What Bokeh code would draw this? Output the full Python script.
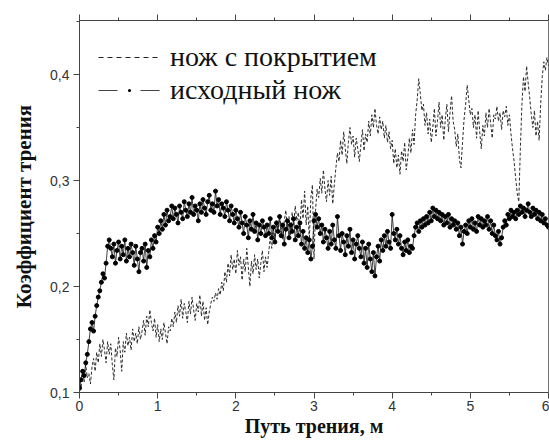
import numpy as np
from bokeh.plotting import figure
from bokeh.models import (Range1d, LinearAxis, FixedTicker, Legend, LegendItem,
                          ColumnDataSource)
from bokeh.embed import file_html
from bokeh.resources import INLINE

# ---- data ----
step = 0.02  # sampling distance along the friction path, m

coef_coated = [
    0.112, 0.104, 0.122, 0.110, 0.126, 0.114, 0.118, 0.108, 0.124, 0.132, 0.120, 0.138, 0.128, 0.146, 0.134, 0.150, 0.140, 0.128, 0.148, 0.136,
    0.146, 0.126, 0.112, 0.142, 0.134, 0.152, 0.140, 0.120, 0.148, 0.138, 0.156, 0.144, 0.152, 0.140, 0.160, 0.148, 0.156, 0.146, 0.162, 0.150,
    0.158, 0.168, 0.154, 0.172, 0.162, 0.178, 0.166, 0.158, 0.170, 0.152, 0.164, 0.148, 0.160, 0.150, 0.166, 0.156, 0.146, 0.162, 0.158, 0.170,
    0.162, 0.176, 0.166, 0.182, 0.172, 0.188, 0.170, 0.184, 0.176, 0.166, 0.186, 0.174, 0.190, 0.178, 0.168, 0.184, 0.176, 0.192, 0.172, 0.186,
    0.168, 0.180, 0.164, 0.176, 0.184, 0.190, 0.186, 0.194, 0.188, 0.198, 0.192, 0.204, 0.196, 0.214, 0.204, 0.222, 0.210, 0.230, 0.216, 0.226,
    0.212, 0.234, 0.220, 0.228, 0.206, 0.226, 0.214, 0.236, 0.218, 0.200, 0.224, 0.212, 0.230, 0.216, 0.226, 0.208, 0.222, 0.234, 0.214, 0.228,
    0.218, 0.232, 0.246, 0.236, 0.254, 0.244, 0.262, 0.250, 0.268, 0.256, 0.244, 0.262, 0.272, 0.254, 0.266, 0.248, 0.270, 0.258, 0.276, 0.262,
    0.270, 0.252, 0.282, 0.264, 0.290, 0.258, 0.276, 0.244, 0.284, 0.296, 0.226, 0.272, 0.292, 0.284, 0.302, 0.288, 0.310, 0.292, 0.280, 0.300,
    0.286, 0.304, 0.278, 0.296, 0.312, 0.326, 0.318, 0.338, 0.324, 0.346, 0.330, 0.316, 0.336, 0.350, 0.334, 0.342, 0.322, 0.340, 0.330, 0.318,
    0.334, 0.348, 0.328, 0.344, 0.336, 0.356, 0.342, 0.362, 0.350, 0.368, 0.352, 0.344, 0.360, 0.348, 0.356, 0.340, 0.352, 0.336, 0.346, 0.330,
    0.338, 0.316, 0.330, 0.312, 0.324, 0.306, 0.328, 0.318, 0.336, 0.310, 0.322, 0.340, 0.326, 0.348, 0.334, 0.362, 0.376, 0.396, 0.382, 0.366,
    0.372, 0.352, 0.364, 0.344, 0.358, 0.336, 0.350, 0.368, 0.342, 0.356, 0.374, 0.350, 0.362, 0.338, 0.358, 0.372, 0.346, 0.364, 0.380, 0.356,
    0.348, 0.332, 0.344, 0.320, 0.312, 0.336, 0.358, 0.372, 0.390, 0.376, 0.362, 0.368, 0.350, 0.362, 0.340, 0.366, 0.346, 0.330, 0.352, 0.342,
    0.364, 0.350, 0.368, 0.354, 0.340, 0.362, 0.358, 0.370, 0.356, 0.364, 0.348, 0.366, 0.360, 0.370, 0.352, 0.362, 0.344, 0.330, 0.318, 0.302,
    0.288, 0.280, 0.330, 0.372, 0.398, 0.384, 0.408, 0.392, 0.378, 0.362, 0.350, 0.366, 0.342, 0.356, 0.338, 0.372, 0.398, 0.412, 0.404, 0.416,
    0.408,
]

coef_original = [
    0.104, 0.112, 0.120, 0.116, 0.128, 0.136, 0.148, 0.160, 0.166, 0.158, 0.172, 0.182, 0.190, 0.196, 0.204, 0.212, 0.208, 0.222, 0.238, 0.244,
    0.236, 0.228, 0.240, 0.222, 0.234, 0.242, 0.226, 0.238, 0.230, 0.244, 0.224, 0.236, 0.228, 0.240, 0.232, 0.220, 0.238, 0.226, 0.214, 0.232,
    0.236, 0.224, 0.240, 0.218, 0.234, 0.228, 0.244, 0.236, 0.248, 0.242, 0.256, 0.250, 0.262, 0.254, 0.268, 0.258, 0.272, 0.262, 0.266, 0.276,
    0.264, 0.274, 0.268, 0.260, 0.276, 0.270, 0.264, 0.280, 0.272, 0.266, 0.278, 0.270, 0.284, 0.268, 0.276, 0.272, 0.262, 0.278, 0.270, 0.282,
    0.274, 0.268, 0.280, 0.286, 0.272, 0.278, 0.270, 0.290, 0.276, 0.282, 0.268, 0.278, 0.274, 0.266, 0.280, 0.272, 0.262, 0.276, 0.268, 0.260,
    0.272, 0.264, 0.256, 0.270, 0.260, 0.250, 0.266, 0.258, 0.246, 0.262, 0.254, 0.268, 0.252, 0.260, 0.244, 0.258, 0.250, 0.262, 0.256, 0.248,
    0.258, 0.250, 0.264, 0.246, 0.256, 0.242, 0.260, 0.252, 0.266, 0.248, 0.258, 0.240, 0.254, 0.262, 0.246, 0.258, 0.252, 0.264, 0.244, 0.256,
    0.248, 0.260, 0.240, 0.252, 0.236, 0.246, 0.232, 0.244, 0.226, 0.238, 0.262, 0.268, 0.256, 0.264, 0.250, 0.258, 0.242, 0.254, 0.246, 0.236,
    0.252, 0.240, 0.258, 0.244, 0.236, 0.266, 0.248, 0.234, 0.250, 0.242, 0.230, 0.248, 0.238, 0.254, 0.232, 0.244, 0.226, 0.240, 0.248, 0.236,
    0.228, 0.242, 0.222, 0.236, 0.218, 0.240, 0.226, 0.214, 0.232, 0.210, 0.228, 0.238, 0.224, 0.244, 0.234, 0.248, 0.238, 0.252, 0.242, 0.236,
    0.268, 0.250, 0.244, 0.254, 0.240, 0.248, 0.236, 0.230, 0.242, 0.234, 0.244, 0.232, 0.238, 0.236, 0.248, 0.256, 0.260, 0.252, 0.262, 0.256,
    0.264, 0.258, 0.266, 0.260, 0.270, 0.262, 0.274, 0.266, 0.272, 0.264, 0.270, 0.262, 0.268, 0.258, 0.266, 0.260, 0.268, 0.256, 0.264, 0.258,
    0.262, 0.254, 0.260, 0.248, 0.256, 0.240, 0.252, 0.258, 0.250, 0.262, 0.256, 0.264, 0.254, 0.260, 0.252, 0.266, 0.258, 0.264, 0.256, 0.262,
    0.258, 0.266, 0.254, 0.262, 0.250, 0.258, 0.248, 0.244, 0.252, 0.240, 0.246, 0.256, 0.262, 0.258, 0.268, 0.264, 0.272, 0.266, 0.270, 0.264,
    0.272, 0.268, 0.276, 0.270, 0.274, 0.266, 0.272, 0.278, 0.270, 0.266, 0.274, 0.268, 0.272, 0.264, 0.270, 0.262, 0.268, 0.260, 0.264, 0.258,
    0.256,
]

path = [round(i * step, 3) for i in range(len(coef_original))]

x_ticks = [0, 1, 2, 3, 4, 5, 6]
x_tick_labels = ["0", "1", "2", "3", "4", "5", "6"]
y_ticks = [0.1, 0.2, 0.3, 0.4]
y_tick_labels = ["0,1", "0,2", "0,3", "0,4"]

series_names = ["нож с покрытием", "исходный нож"]
x_title = "Путь трения, м"
y_title = "Коэффициент трения"

# ---- figure ----
p = figure(width=549, height=441, output_backend="svg", toolbar_location=None,
           x_range=Range1d(0, 6), y_range=Range1d(0.1, 0.451),
           min_border_left=79, min_border_top=20, min_border_bottom=49,
           min_border_right=1)
p.background_fill_color = "white"
p.border_fill_color = "white"
p.outline_line_color = "#777777"
p.outline_line_width = 1
p.grid.visible = False

src = ColumnDataSource(dict(x=path, coated=coef_coated, orig=coef_original))

p.line("x", "coated", source=src, line_color="#2a2a2a", line_width=1,
       line_dash="3 2")
p.line("x", "orig", source=src, line_color="#111111", line_width=0.8)
p.scatter("x", "orig", source=src, size=4, marker="circle",
          fill_color="#000000", line_color="#000000")

# legend-only glyphs (no visible data)
blank = ColumnDataSource(dict(x=np.array([np.nan]), y=np.array([np.nan])))
lg1 = p.line("x", "y", source=blank, line_color="#222222", line_width=1,
             line_dash="5 4")
lg2a = p.line("x", "y", source=blank, line_color="#444444", line_width=1,
              line_dash="19 23")
lg2b = p.scatter("x", "y", source=blank, size=3.5, marker="dot",
                 fill_color="#000000", line_color="#000000")

legend = Legend(items=[LegendItem(label=series_names[0], renderers=[lg1]),
                       LegendItem(label=series_names[1], renderers=[lg2a, lg2b])],
                location=(9, 276), padding=10,
                glyph_width=62, glyph_height=32, label_height=32,
                label_standoff=10, spacing=1,
                label_text_font="Liberation Serif", label_text_font_size="28px",
                label_text_color="#111111",
                background_fill_alpha=0, border_line_alpha=0)
p.add_layout(legend)

def style_axis(ax, ticks, labels):
    half = (ticks[1] - ticks[0]) / 2
    ax.ticker = FixedTicker(ticks=ticks, minor_ticks=[t + half for t in ticks])
    ax.major_label_overrides = {t: l for t, l in zip(ticks, labels)}
    ax.axis_line_color = "#444444"
    ax.major_tick_line_color = "#444444"
    ax.minor_tick_line_color = "#444444"
    ax.major_tick_out = 6
    ax.major_tick_in = 0
    ax.minor_tick_out = 3
    ax.minor_tick_in = 0
    ax.major_label_text_font = "Liberation Sans"
    ax.major_label_text_font_size = "14px"
    ax.major_label_text_color = "#333333"
    ax.axis_label_text_font = "Liberation Serif"
    ax.axis_label_text_font_style = "bold"
    ax.axis_label_text_font_size = "21px"
    ax.axis_label_text_color = "#111111"

style_axis(p.xaxis[0], x_ticks, x_tick_labels)
style_axis(p.yaxis[0], y_ticks, y_tick_labels)
p.xaxis[0].axis_label = x_title
p.yaxis[0].axis_label = y_title
p.xaxis[0].major_label_standoff = 2
p.xaxis[0].axis_label_standoff = 1
p.xaxis[0].axis_label_text_font_size = "20px"
p.yaxis[0].major_label_standoff = 4
p.yaxis[0].axis_label_standoff = 11

top = LinearAxis()
style_axis(top, x_ticks, x_tick_labels)
top.major_label_text_font_size = "1px"
top.major_label_text_color = None
top.major_label_standoff = 0
p.add_layout(top, "above")

open("out.html", "w").write(file_html(p, INLINE))
